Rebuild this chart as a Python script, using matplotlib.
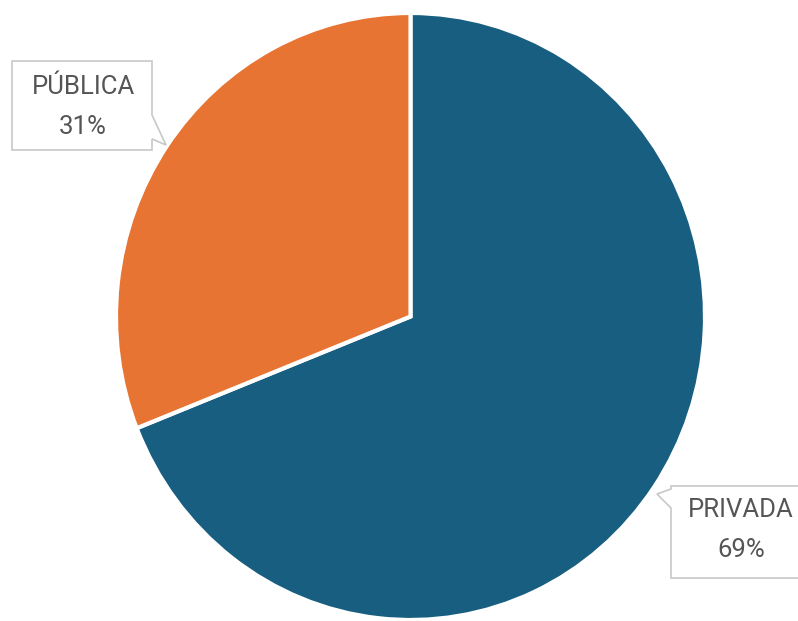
import matplotlib.pyplot as plt
from matplotlib.patches import Polygon
from matplotlib import font_manager

labels = ['PRIVADA', 'PÚBLICA']
shares = [69, 31]
colors = ['#185e80', '#e87433']

names = {f.name for f in font_manager.fontManager.ttflist}
font = 'Liberation Sans Narrow' if 'Liberation Sans Narrow' in names else 'Roboto'

W, H = 798, 621
fig = plt.figure(figsize=(W / 100, H / 100), dpi=100)

# pie occupies pixel box x 116..705, y 13..620
ax = fig.add_axes([116 / W, 1 - 620 / H, 589 / W, 607 / H])
ax.pie(shares, colors=colors, startangle=90, counterclock=False,
       wedgeprops=dict(edgecolor='white', linewidth=3))
ax.set_aspect('auto')
ax.set_xlim(-1, 1)
ax.set_ylim(-1, 1)
ax.axis('off')


def px(x, y):
    return (x / W, 1 - y / H)


def callout(pts, text, cx, cy):
    poly = Polygon([px(*p) for p in pts], closed=True, transform=fig.transFigure,
                   facecolor='white', edgecolor='#c8c8c8', linewidth=1.2, zorder=5)
    fig.add_artist(poly)
    fig.text(*px(cx, cy), text, ha='center', va='center', fontsize=18.5,
             color='#555555', family=font, linespacing=1.85, zorder=6)


# PÚBLICA callout, pointer on right edge
callout([(12, 61), (152, 61), (152, 115), (166, 145), (152, 139), (152, 150), (12, 150)],
        f'{labels[1]}\n{shares[1]}%', 83, 107)

# PRIVADA callout, pointer on left edge
callout([(671, 486), (805, 486), (805, 578), (671, 578), (671, 508), (657, 494), (671, 489)],
        f'{labels[0]}\n{shares[0]}%', 741, 530)

fig.savefig('out.png', dpi=100)
